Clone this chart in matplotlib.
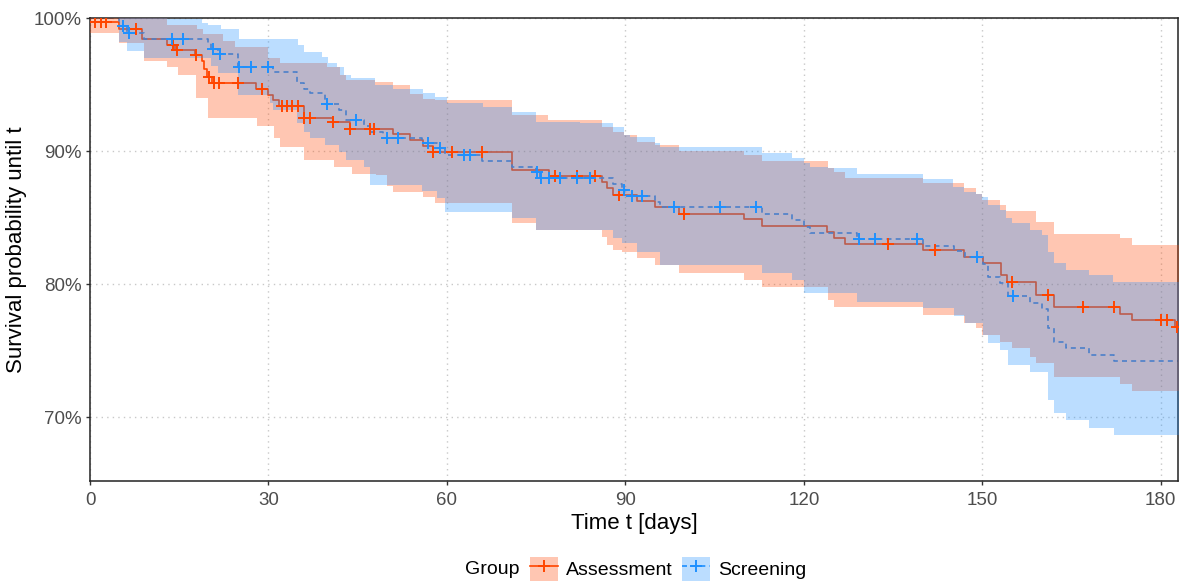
import numpy as np
import matplotlib
matplotlib.use("Agg")
import matplotlib.pyplot as plt
from matplotlib.patches import Patch
from matplotlib.lines import Line2D
from matplotlib.ticker import FuncFormatter

plt.rcParams["font.family"] = ["Liberation Sans", "DejaVu Sans"]

group_names = ["Assessment", "Screening"]
group_colors = ["#FF4500", "#1E90FF"]
group_styles = ["-", (0, (3, 2.5))]

x_ticks = [0, 30, 60, 90, 120, 150, 180]
y_ticks = [70, 80, 90, 100]

# ---- Assessment: Kaplan-Meier steps (day, survival %) ----
assess_time = [0, 4.8, 8.8, 12.9, 14.3, 17.7, 18.8, 19.2, 19.6, 20.5, 27.9, 29.9, 30.8,
               31.8, 35.9, 40.9, 43.7, 50.9, 53.8, 55.9, 57.7, 70.9, 77.1, 86.0, 86.9,
               88.0, 91.9, 95.0, 99.0, 110.0, 112.9, 123.9, 125.0, 127.0, 140.0, 147.0,
               150.1, 153.1, 154.2, 159.1, 162.1, 173.1, 175.2, 182.4]
assess_surv = [99.7, 99.2, 98.4, 98.0, 97.6, 97.2, 96.8, 96.2, 95.6, 95.1, 94.66, 94.2,
               93.83, 93.4, 92.5, 92.16, 91.65, 91.28, 90.8, 90.38, 89.95, 88.57, 88.1,
               87.7, 87.2, 86.7, 86.24, 85.8, 85.3, 84.86, 84.4, 83.9, 83.5, 83.0, 82.56,
               82.05, 81.56, 80.7, 80.17, 79.2, 78.25, 77.74, 77.27, 76.8]
assess_censor = [0.8, 1.8, 2.7, 7.8, 14.0, 14.7, 17.8, 20.0, 20.9, 21.7, 24.8, 28.9, 32.2,
                 33.1, 33.9, 34.9, 35.9, 36.9, 40.9, 43.7, 47.0, 47.8, 57.7, 60.8, 65.9,
                 78.1, 81.8, 84.9, 89.0, 99.9, 134.1, 142.1, 155.0, 161.1, 167.0, 172.1,
                 180.1, 181.0, 182.8]
assess_hi_time = [0, 13, 18, 19, 22.4, 24.3, 29.9, 32, 39.8, 42, 43, 47.9, 51, 53.8, 56,
                  58, 70.9, 77, 86, 88, 89.7, 91.9, 95, 99, 110, 113, 124, 125, 127, 140,
                  147, 149, 150, 153, 154, 159.1, 162.1, 173.2, 175.2]
assess_hi = [100, 99.5, 99.2, 98.8, 98.3, 97.85, 97.0, 96.6, 96.3, 95.7, 95.35, 95.2,
             94.96, 94.3, 93.9, 93.83, 92.7, 92.35, 91.83, 91.45, 91.2, 90.7, 90.45, 90.0,
             89.7, 89.25, 88.7, 88.44, 88.0, 87.57, 87.2, 86.8, 86.3, 85.94, 85.5, 84.7,
             83.8, 83.44, 82.93]
assess_lo_time = [0, 4.8, 9, 12.9, 14.85, 17.9, 19.9, 28, 31, 32, 36, 41, 44, 48, 50, 51,
                  56, 58, 60, 71, 75, 86, 86.9, 88, 89.4, 91.9, 95, 99, 110, 113, 124, 125,
                  140, 147, 149, 150, 153, 155, 158, 159, 162, 173.2, 175.2]
assess_lo = [98.85, 98.1, 96.8, 96.3, 95.7, 94.0, 92.46, 91.9, 91.0, 90.3, 89.3, 88.8,
             88.3, 88.2, 87.4, 86.94, 86.56, 86.1, 86.07, 84.56, 84.06, 83.56, 82.93, 82.56,
             82.4, 81.93, 81.43, 80.85, 80.3, 79.8, 78.8, 78.3, 77.67, 77.1, 76.67, 76.17,
             75.66, 75.17, 74.5, 74.04, 73.03, 72.5, 71.98]

# ---- Screening: Kaplan-Meier steps (day, survival %) ----
screen_time = [0, 4.8, 6.2, 9.0, 19.9, 20.3, 21.5, 24.9, 30.8, 34.8, 35.9, 36.9, 39.5,
               41.8, 43.0, 46.0, 47.1, 49.3, 55.8, 58.3, 59.7, 65.9, 70.9, 75.0, 75.6,
               88.0, 89.5, 90.5, 95.0, 95.8, 112.9, 118.0, 120.0, 121.0, 128.9, 140.0,
               145.2, 147.1, 150.1, 151.0, 153.0, 154.4, 158.1, 160.0, 161.0, 162.0,
               164.0, 168.0, 172.1]
screen_surv = [100, 99.4, 98.85, 98.4, 98.1, 97.67, 97.27, 96.34, 95.96, 95.14, 94.7,
               94.34, 93.53, 93.08, 92.33, 91.88, 91.45, 90.95, 90.6, 90.2, 89.7, 89.27,
               88.8, 88.44, 87.95, 87.5, 87.07, 86.6, 86.2, 85.77, 85.26, 84.8, 84.3, 83.86,
               83.36, 82.88, 82.48, 82.0, 81.5, 80.5, 80.05, 79.1, 78.55, 78.1, 76.67, 75.66,
               75.2, 74.7, 74.23]
screen_censor = [5.6, 6.6, 13.8, 15.7, 20.7, 21.9, 25.0, 27.0, 29.9, 39.9, 44.8, 49.9,
                 51.8, 56.9, 58.9, 62.8, 63.9, 75.1, 75.9, 77.1, 79.0, 81.8, 84.1, 89.8,
                 91.1, 92.8, 98.1, 105.9, 112.0, 129.2, 132.0, 139.0, 149.1, 155.1]
screen_hi_time = [0, 12.9, 18.8, 19.9, 22, 25, 35, 35.9, 39, 40, 41.6, 42.7, 43.8, 47.9,
                  51, 56, 58, 60, 66, 71, 75, 82.4, 88, 89.7, 90.8, 95, 95.9, 99, 113, 118,
                  120, 121, 124, 129, 140, 145, 147, 149, 150, 151, 153, 154, 155, 158,
                  160, 161, 162, 164, 168, 172]
screen_hi = [100, 99.9, 99.6, 99.5, 99.2, 98.4, 97.97, 97.47, 97.1, 96.6, 96.3, 95.7,
             95.47, 94.96, 94.64, 94.34, 94.08, 93.6, 93.3, 92.96, 92.2, 92.13, 91.83,
             91.2, 91.05, 90.6, 90.33, 90.28, 89.87, 89.45, 89.07, 88.8, 88.7, 88.3, 87.87,
             87.32, 86.94, 86.8, 86.56, 85.94, 85.56, 85.0, 84.56, 84.06, 83.68, 82.43,
             81.56, 81.05, 80.68, 80.17]
screen_lo_time = [0, 4.8, 6.2, 9, 20.3, 21.5, 24.9, 30.3, 30.8, 34.8, 35.9, 36.9, 39.5,
                  41.8, 43, 46, 47.1, 55.8, 58.3, 59.7, 70.9, 75, 88, 89.5, 92, 95.8,
                  112.9, 118, 120, 128.9, 140, 145.2, 147.1, 150.1, 151, 153, 154.4, 158.1,
                  161, 162, 164, 168, 172.1]
screen_lo = [100, 98.2, 97.5, 97.0, 96.4, 95.9, 94.2, 93.6, 93.1, 92.1, 91.45, 90.95,
             90.45, 89.95, 89.3, 88.8, 87.44, 87.0, 86.5, 85.44, 84.94, 84.06, 83.5, 83.06,
             82.43, 81.4, 80.8, 80.3, 79.3, 78.67, 78.17, 77.6, 77.1, 76.2, 75.54, 75.04,
             73.9, 73.4, 71.28, 70.28, 69.8, 69.15, 68.65]

x_max = 182.9
y_min = 65.2


def step_value(times, values, x):
    idx = np.searchsorted(np.asarray(times), np.asarray(x), side="right") - 1
    return np.asarray(values)[np.clip(idx, 0, None)]


groups = [
    dict(time=assess_time, surv=assess_surv, censor=assess_censor,
         hi_t=assess_hi_time, hi=assess_hi, lo_t=assess_lo_time, lo=assess_lo),
    dict(time=screen_time, surv=screen_surv, censor=screen_censor,
         hi_t=screen_hi_time, hi=screen_hi, lo_t=screen_lo_time, lo=screen_lo),
]

fig = plt.figure(figsize=(11.83, 5.81), dpi=100)
ax = fig.add_axes([90 / 1183, 1 - 481 / 581, (1178 - 90) / 1183, (481 - 18) / 581])

# survival curves first, confidence bands laid over them, censor marks on top
for g, color, ls in zip(groups, group_colors, group_styles):
    t = np.r_[g["time"], x_max + 1]
    s = np.r_[g["surv"], g["surv"][-1]]
    ax.step(t, s, where="post", color=color, lw=1.2, ls=ls, zorder=2)

for g, color in zip(groups, group_colors):
    grid = np.unique(np.r_[g["hi_t"], g["lo_t"], x_max + 1])
    ax.fill_between(grid, step_value(g["lo_t"], g["lo"], grid),
                    step_value(g["hi_t"], g["hi"], grid),
                    step="post", color=color, alpha=0.3, lw=0, zorder=3)

for g, color in zip(groups, group_colors):
    cy = step_value(g["time"], g["surv"], g["censor"])
    ax.plot(g["censor"], cy, ls="none", marker="+", ms=9, mew=1.4,
            color=color, zorder=4, clip_on=True)

ax.set_xlim(0, x_max)
ax.set_ylim(y_min, 100)
ax.set_xticks(x_ticks)
ax.set_yticks(y_ticks)
ax.yaxis.set_major_formatter(FuncFormatter(lambda v, p: f"{v:.0f}%"))
ax.grid(True, ls=(0, (1, 3)), color="#C8C8C8", lw=1.0, zorder=0)
ax.set_axisbelow(True)
for sp in ax.spines.values():
    sp.set_linewidth(1.1)
    sp.set_color("#222222")
ax.tick_params(direction="out", length=3, width=1, color="#333333",
               labelsize=13.5, labelcolor="#4D4D4D")
ax.tick_params(axis="x", pad=5)
ax.tick_params(axis="y", pad=3)
ax.set_xlabel("Time t [days]", fontsize=16, labelpad=3)
ax.set_ylabel("Survival probability until t", fontsize=16, labelpad=5)

handles = []
for color, ls in zip(group_colors, group_styles):
    patch = Patch(facecolor=color, alpha=0.3, edgecolor="none")
    line = Line2D([], [], color=color, ls=ls, lw=1.2, marker="+", ms=9, mew=1.4)
    handles.append((patch, line))
fig.legend(handles, group_names, ncol=2, loc="center",
           bbox_to_anchor=(668 / 1183, 1 - 569 / 581), frameon=False, fontsize=14,
           handlelength=1.45, handleheight=1.45, handletextpad=0.4,
           columnspacing=0.5, borderaxespad=0)
fig.text(492 / 1183, 1 - 569 / 581, "Group", fontsize=14, ha="center", va="center")

fig.savefig("out.png", dpi=100)
